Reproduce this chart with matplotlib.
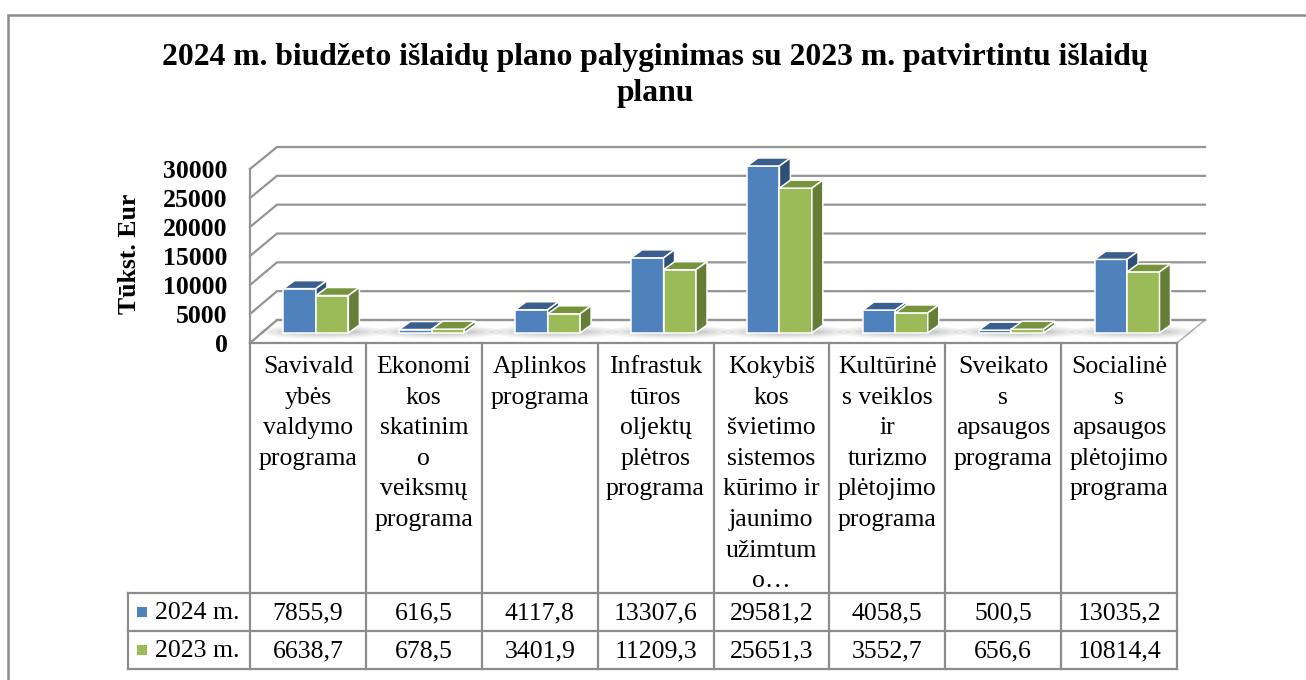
import matplotlib
matplotlib.use('Agg')
import matplotlib.pyplot as plt
from matplotlib.patches import Polygon, Ellipse, Rectangle
import numpy as np

# ---------------- data ----------------
category_lines = [
    ["Savivald", "ybės", "valdymo", "programa"],
    ["Ekonomi", "kos", "skatinim", "o", "veiksmų", "programa"],
    ["Aplinkos", "programa"],
    ["Infrastuk", "tūros", "oljektų", "plėtros", "programa"],
    ["Kokybiš", "kos", "švietimo", "sistemos", "kūrimo ir", "jaunimo", "užimtum", "o…"],
    ["Kultūrinė", "s veiklos", "ir", "turizmo", "plėtojimo", "programa"],
    ["Sveikato", "s", "apsaugos", "programa"],
    ["Socialinė", "s", "apsaugos", "plėtojimo", "programa"],
]
values_2024 = [7855.9, 616.5, 4117.8, 13307.6, 29581.2, 4058.5, 500.5, 13035.2]
values_2023 = [6638.7, 678.5, 3401.9, 11209.3, 25651.3, 3552.7, 656.6, 10814.4]
series_names = ["2024 m.", "2023 m."]
yticks = [0, 5000, 10000, 15000, 20000, 25000, 30000]
title_lines = ["2024 m. biudžeto išlaidų plano palyginimas su 2023 m. patvirtintu išlaidų", "planu"]
ylabel = "Tūkst. Eur"

# ---------------- style ----------------
SERIF = "Liberation Serif"
front_cols = ["#4F81BD", "#9BBB59"]
top_cols = ["#3A5F8E", "#77933C"]
side_cols = ["#2E5077", "#657D36"]
grid_col = "#959595"
tbl_col = "#8C8C8C"

W, H = 1306, 680
fig = plt.figure(figsize=(W / 100, H / 100), dpi=100)
fig.patch.set_facecolor("white")


def axes_px(left, right, top, bottom, z):
    a = fig.add_axes([left / W, 1 - bottom / H, (right - left) / W, (bottom - top) / H], zorder=z)
    a.set_xlim(-0.5, len(values_2024) - 0.5)
    a.set_ylim(yticks[0], yticks[-1])
    a.patch.set_visible(False)
    return a


ov = fig.add_axes([0, 0, 1, 1], zorder=0)
ov.set_xlim(0, W)
ov.set_ylim(H, 0)
ov.axis("off")

ax_back = axes_px(277, 1205, 147, 320, 1)
ax_back.axis("off")
ax_front = axes_px(250, 1177, 169, 343, 1)
ax = axes_px(258, 1185, 163.6, 333, 3)
ax.axis("off")

n = len(values_2024)
inv = ov.transData.inverted()


def to_ov(a, x, y):
    return inv.transform(a.transData.transform((x, y)))


# ---------------- walls / gridlines ----------------
for v in yticks:
    f = to_ov(ax_front, -0.5, v)
    bl = to_ov(ax_back, -0.5, v)
    br = to_ov(ax_back, n - 0.5, v)
    ov.plot([f[0], bl[0], br[0]], [f[1], bl[1], br[1]], color=grid_col, lw=1.6,
            solid_joinstyle="miter", zorder=2)
p0 = to_ov(ax_front, -0.5, yticks[0])
p1 = to_ov(ax_front, -0.5, yticks[-1])
ov.plot([p0[0], p1[0]], [p0[1], p1[1]], color=grid_col, lw=1.6, zorder=2)
fl = [to_ov(ax_front, -0.5, 0), to_ov(ax_front, n - 0.5, 0),
      to_ov(ax_back, n - 0.5, 0), to_ov(ax_back, -0.5, 0)]
ov.add_patch(Polygon(fl, closed=True, facecolor="white", edgecolor="#B5B5B5", lw=1.2, zorder=1))
ov.plot([fl[2][0], fl[3][0]], [fl[2][1], fl[3][1]], color=grid_col, lw=1.6, zorder=2)

ax_front.set_yticks(yticks)
ax_front.set_yticklabels([str(t) for t in yticks], fontfamily=SERIF, fontweight="bold", fontsize=18.5)
ax_front.tick_params(axis="y", length=0, pad=16)
ax_front.set_xticks([])
for s in ax_front.spines.values():
    s.set_visible(False)
ov.text(129, 254, ylabel, rotation=90, ha="center", va="center",
        fontfamily=SERIF, fontweight="bold", fontsize=18.5)

# ---------------- bars ----------------
w = 0.28
dx = 11 * (n / 927.0)
dy = 8 * ((yticks[-1] - yticks[0]) / 169.4)
x = np.arange(n)

for i in range(n):
    for (ew, eh, al) in [(1.10, 2400, 0.07), (0.95, 1900, 0.08), (0.80, 1400, 0.09), (0.66, 1000, 0.10)]:
        ax.add_patch(Ellipse((x[i] + dx * 0.6, 200), ew, eh, facecolor="#5A5A5A",
                             edgecolor="none", alpha=al, zorder=1, clip_on=False))

for i in range(n):
    for s, vals in enumerate([values_2024, values_2023]):
        v = vals[i]
        xl = x[i] - w + s * w
        xr = xl + w
        ax.bar(xl, v, width=w, align="edge", color=front_cols[s], edgecolor="white",
               lw=1.1, zorder=5 + 2 * s, clip_on=False)
        top = [(xl, v), (xr, v), (xr + dx, v + dy), (xl + dx, v + dy)]
        side = [(xr, 0), (xr, v), (xr + dx, v + dy), (xr + dx, dy)]
        ax.add_patch(Polygon(top, closed=True, facecolor=top_cols[s], edgecolor="white",
                             lw=1.1, zorder=5 + 2 * s, clip_on=False))
        ax.add_patch(Polygon(side, closed=True, facecolor=side_cols[s], edgecolor="white",
                             lw=1.1, zorder=5 + 2 * s, clip_on=False))

# ---------------- title ----------------
ov.text(655, 57, title_lines[0], ha="center", va="center", fontfamily=SERIF,
        fontweight="bold", fontsize=22.8)
ov.text(655, 93, title_lines[1], ha="center", va="center", fontfamily=SERIF,
        fontweight="bold", fontsize=22.8)

# ---------------- data table ----------------
col_edges = [to_ov(ax_front, k - 0.5, 0)[0] for k in range(n + 1)]
t_top = to_ov(ax_front, -0.5, 0)[1]
row_y = [593, 631, 669]
leg_left = 128
for xe in col_edges:
    ov.plot([xe, xe], [t_top, row_y[-1]], color=tbl_col, lw=1.6, zorder=3)
ov.plot([leg_left, leg_left], [row_y[0], row_y[-1]], color=tbl_col, lw=1.6, zorder=3)
for yy in row_y:
    ov.plot([leg_left, col_edges[-1]], [yy, yy], color=tbl_col, lw=1.6, zorder=3)
ov.plot([col_edges[0], col_edges[-1]], [t_top, t_top], color=tbl_col, lw=1.6, zorder=3)

for i, lines in enumerate(category_lines):
    cx = (col_edges[i] + col_edges[i + 1]) / 2
    for j, ln in enumerate(lines):
        ov.text(cx, 373 + 30.6 * j, ln, ha="center", va="baseline", fontfamily=SERIF, fontsize=18.5)

baselines = [619, 657]
for s, vals in enumerate([values_2024, values_2023]):
    for i, v in enumerate(vals):
        cx = (col_edges[i] + col_edges[i + 1]) / 2
        ov.text(cx, baselines[s], f"{v:.1f}".replace(".", ","), ha="center", va="baseline",
                fontfamily=SERIF, fontsize=18.5)
    ov.add_patch(Rectangle((137, baselines[s] - 12), 10, 10, facecolor=front_cols[s], edgecolor="none", zorder=4))
    ov.text(155, baselines[s], series_names[s], ha="left", va="baseline", fontfamily=SERIF, fontsize=18.5)

# ---------------- outer border ----------------
ov.plot([8, 8, W], [H, 15, 15], color="#8C8C8C", lw=1.8, solid_joinstyle="miter", zorder=3)

fig.savefig("out.png", dpi=100, facecolor="white")
